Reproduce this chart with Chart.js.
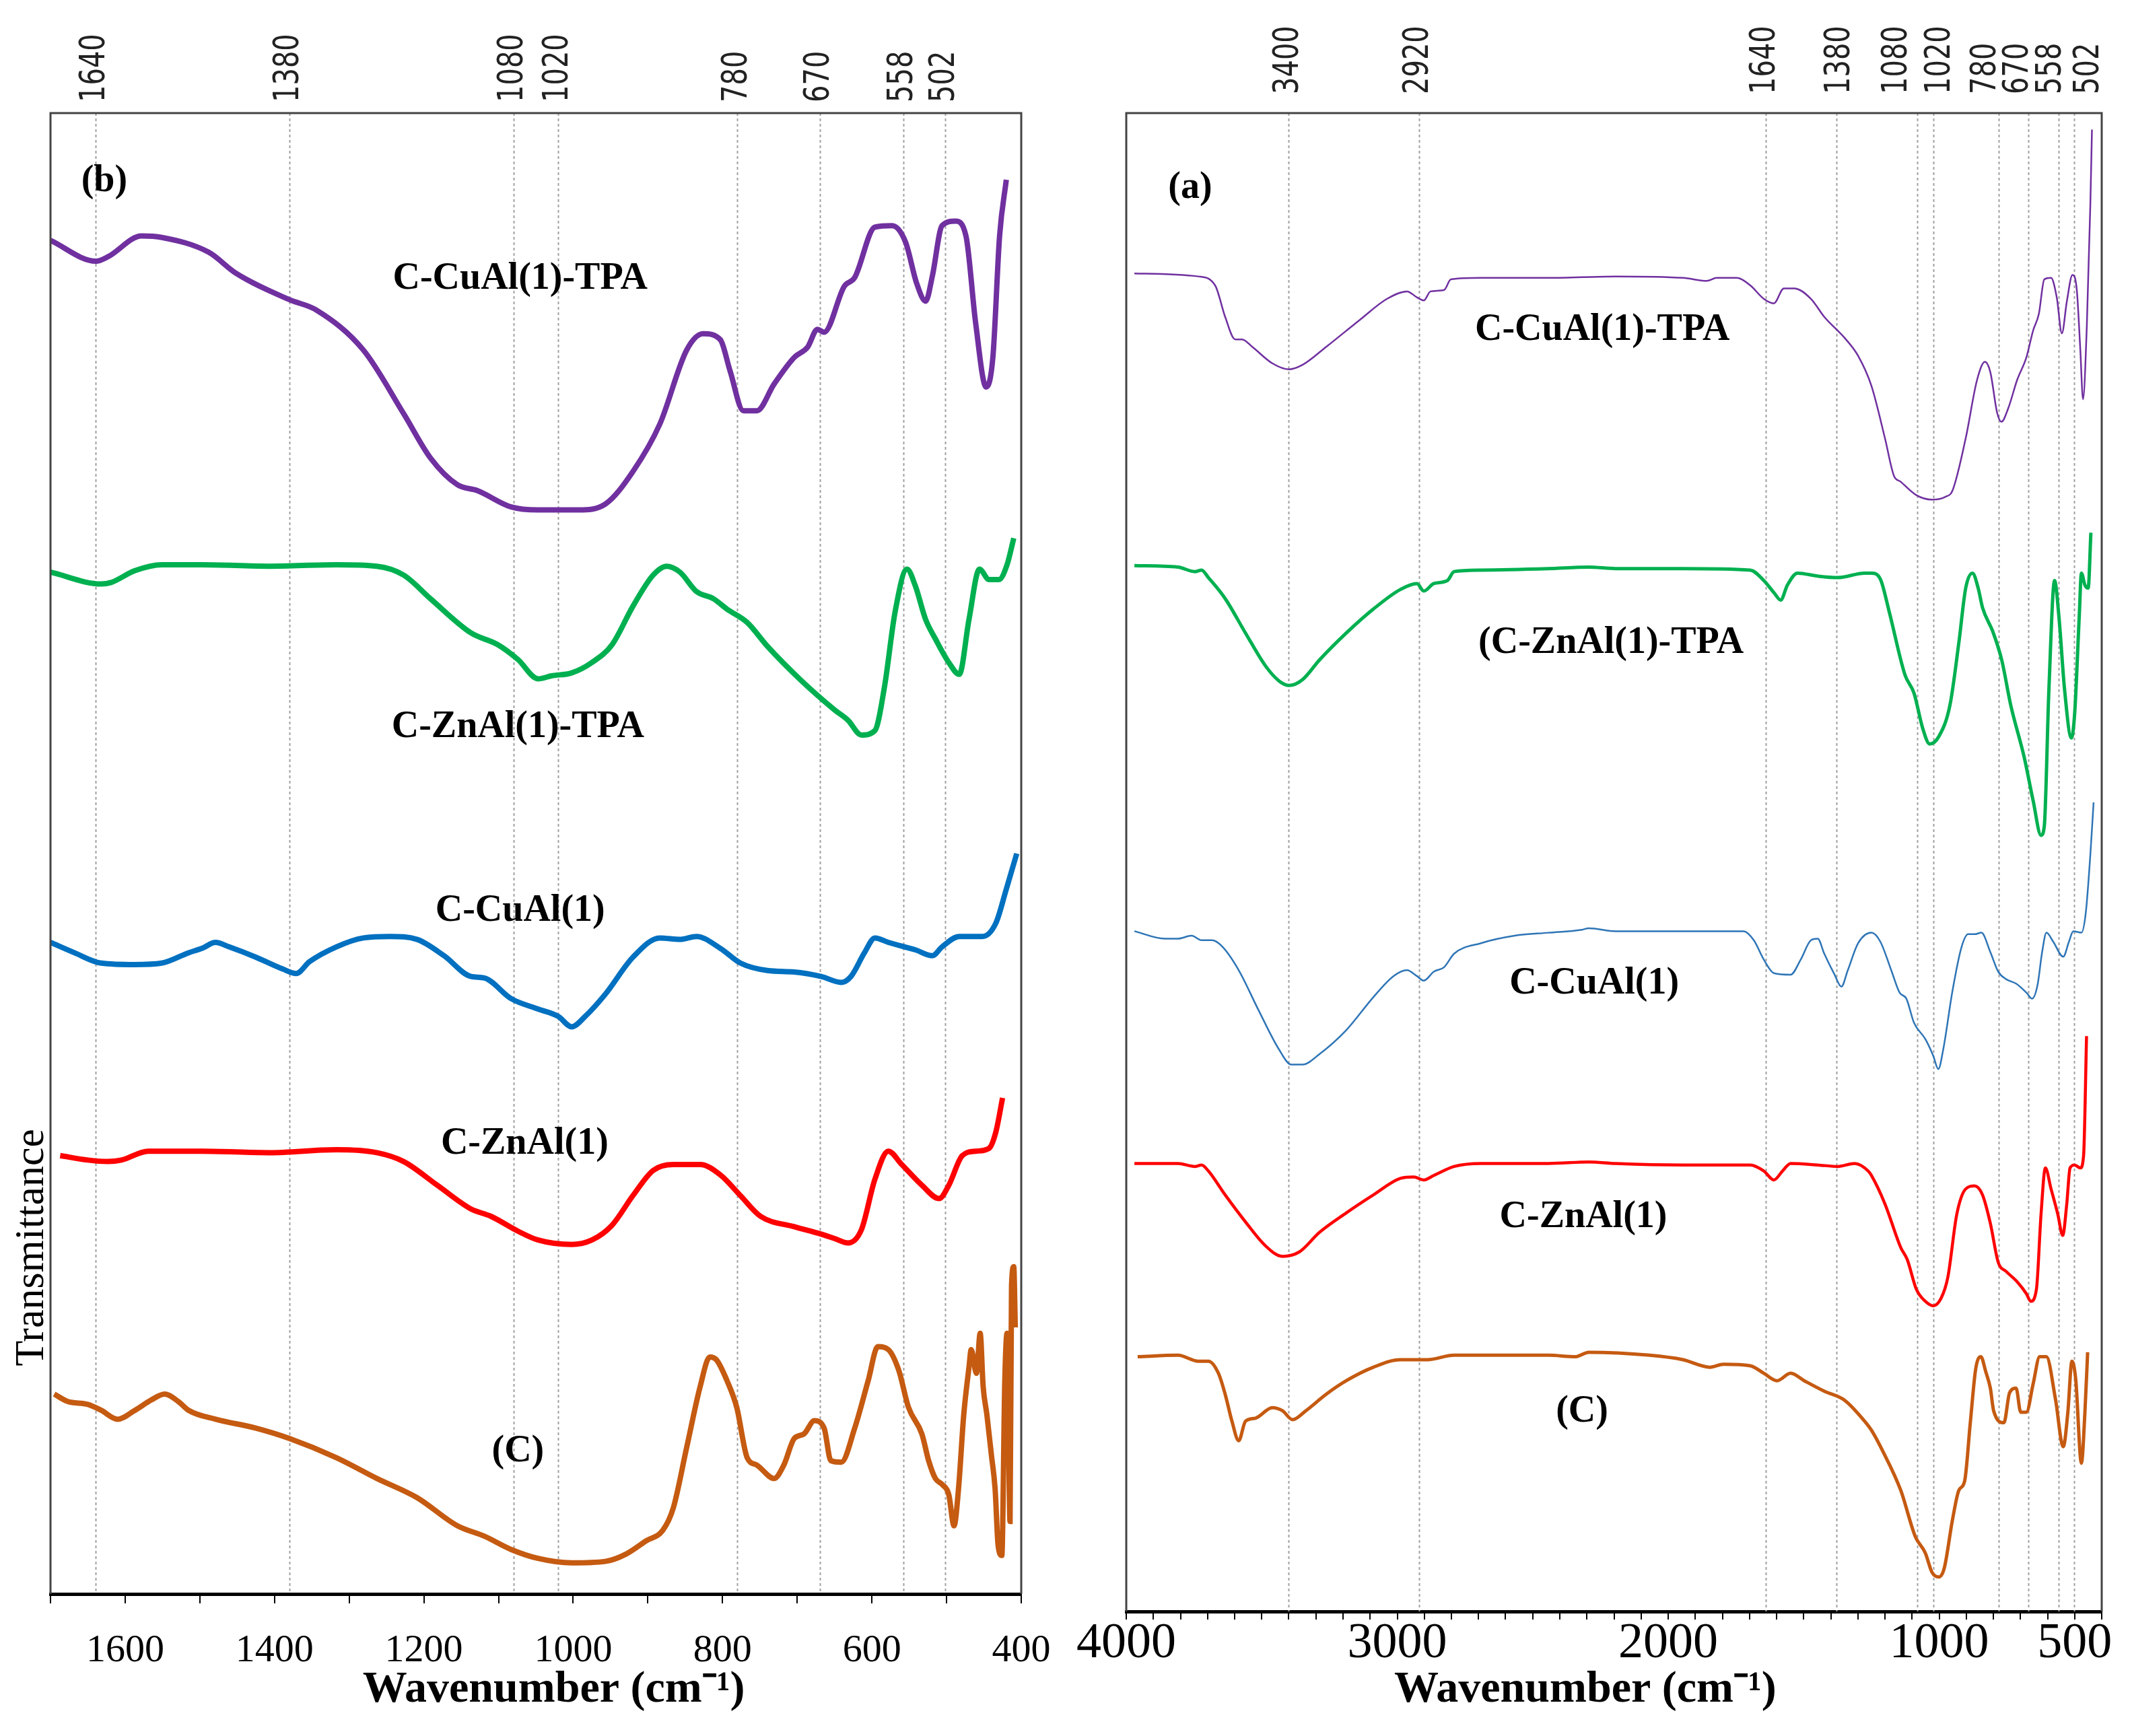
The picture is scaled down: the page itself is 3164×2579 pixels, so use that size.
<!DOCTYPE html>
<html>
<head>
<meta charset="utf-8">
<script src="https://cdn.jsdelivr.net/npm/chart.js@4.4.1/dist/chart.umd.min.js"></script>
<style>
  html, body { margin: 0; padding: 0; background: #fff; }
  #wrap { position: relative; width: 3164px; height: 2579px; background: #fff; }
  canvas { position: absolute; top: 0; }
  #left { left: 0; }
  #right { left: 1600px; }
</style>
</head>
<body>
<div id="wrap">
  <canvas id="left" width="1600" height="2579"></canvas>
  <canvas id="right" width="1564" height="2579"></canvas>
</div>
<script>
// ---- panel (b): 1700-400 cm-1 ----
const bPeaks = [1640, 1380, 1080, 1020, 780, 670, 558, 502];
const bPeakLabelAt = [1640, 1380, 1080, 1020, 780, 670, 558, 502];
const bTickLabels = [1600, 1400, 1200, 1000, 800, 600, 400];

const bCuTpaX = [1700,1639,1623,1578,1551,1488,1452,1380,1344,1281,1227,1191,1155,1128,1083,1047,993,957,920,884,848,826,803,790,772,754,731,704,686,673,664,637,623,596,573,555,540,528,519,506,488,474,461,447,438,429,420];
const bCuTpaY = [91.4,90.0,90.3,91.7,91.6,90.6,89.2,87.4,86.7,84.0,79.7,76.7,74.9,74.5,73.4,73.2,73.2,73.6,75.8,79.0,84.0,85.1,84.7,82.6,79.9,79.9,81.7,83.5,84.2,85.4,85.2,88.3,88.9,92.3,92.4,91.3,88.5,87.3,89.0,92.4,92.7,91.7,85.8,81.5,83.5,91.7,95.5];

const bZnTpaX = [1700,1632,1619,1587,1551,1497,1407,1317,1263,1227,1191,1137,1101,1074,1047,1029,1002,975,948,920,893,875,857,835,812,794,767,740,695,650,632,614,596,583,569,553,542,528,515,497,483,470,456,443,430,419,410];
const bZnTpaY = [69.0,68.2,68.3,69.1,69.5,69.5,69.4,69.5,69.4,68.8,67.2,64.9,64.1,63.1,61.8,62.0,62.2,62.9,64.1,66.7,68.8,69.4,69.0,67.7,67.2,66.5,65.6,64.0,61.7,59.7,59.0,58.0,58.3,61.3,66.3,69.2,68.1,65.8,64.5,62.9,62.1,65.8,69.2,68.5,68.5,69.5,71.3];

const bCuX = [1700,1668,1632,1587,1551,1515,1497,1479,1461,1425,1389,1371,1353,1317,1281,1245,1209,1173,1137,1119,1083,1047,1020,1002,984,957,920,884,857,835,803,776,740,704,668,641,628,610,596,578,542,519,506,483,452,434,420,406];
const bCuY = [44.0,43.3,42.6,42.5,42.6,43.3,43.6,44.0,43.7,43.0,42.2,41.9,42.7,43.7,44.3,44.4,44.2,43.1,41.7,41.6,40.2,39.5,39.0,38.3,39.0,40.5,43.0,44.3,44.2,44.4,43.6,42.6,42.1,42.0,41.7,41.3,41.7,43.3,44.3,44.0,43.5,43.1,43.7,44.4,44.4,45.3,47.6,50.0];

const bZnX = [1687,1650,1623,1605,1569,1497,1407,1317,1263,1227,1182,1137,1110,1074,1047,1002,975,948,920,893,866,830,803,776,749,704,668,650,632,614,596,578,560,533,510,497,479,461,443,434,425];
const bZnY = [29.6,29.3,29.2,29.3,29.9,29.9,29.8,30.0,29.8,29.2,27.6,26.0,25.5,24.5,23.9,23.6,23.9,24.9,26.9,28.6,29.0,29.0,28.3,26.9,25.5,24.8,24.3,24.0,23.7,24.6,28.0,29.9,29.0,27.6,26.7,27.6,29.6,29.9,30.1,31.2,33.5];

const bCX = [1695,1677,1650,1632,1610,1587,1565,1547,1529,1515,1479,1425,1380,1317,1263,1209,1155,1119,1083,1047,1002,957,929,902,880,866,848,830,817,808,794,781,767,754,731,718,704,691,677,664,655,641,623,605,592,578,564,551,533,524,515,506,497,490,484,477,470,467,460,455,451,446,440,435,431,426,422,419,415,413,410,408];
const bCY = [13.5,13.0,12.8,12.4,11.8,12.4,13.1,13.5,13.0,12.4,11.8,11.2,10.5,9.2,7.8,6.5,4.6,3.9,3.0,2.4,2.1,2.2,2.7,3.6,4.3,5.8,9.9,14.0,16.0,15.8,14.4,12.6,9.2,8.7,7.8,8.7,10.5,10.8,11.7,11.2,9.0,8.9,11.2,14.4,16.7,16.5,15.1,12.6,10.8,9.0,7.8,7.4,6.7,4.6,7.1,12.1,15.3,16.5,14.9,17.6,14.0,12.1,9.4,7.1,3.3,2.6,14.4,17.6,4.9,20.8,22.1,18.0];

const bLabels = ['(b)', 'C-CuAl(1)-TPA', 'C-ZnAl(1)-TPA', 'C-CuAl(1)', 'C-ZnAl(1)', '(C)'];
const bLabelX = [1628, 1071, 1074, 1071, 1065, 1074];
const bLabelY = [95.4, 88.8, 58.5, 46.1, 30.4, 9.6];

// ---- panel (a): 4000-400 cm-1 ----
const aPeaks = [3400, 2920, 1640, 1380, 1080, 1020, 780, 670, 558, 502];
const aPeakLabelAt = [3400, 2920, 1640, 1366, 1153, 996, 827, 708, 586, 447];
const aTickLabels = [4000, 3000, 2000, 1000, 500];

const aCuTpaX = [3970,3734,3672,3635,3598,3573,3535,3461,3399,3349,3262,3138,3038,2964,2927,2902,2877,2827,2802,2691,2442,2194,1945,1858,1821,1747,1697,1647,1610,1573,1535,1473,1424,1349,1299,1250,1200,1167,1142,1084,1026,976,951,902,860,831,811,786,770,745,712,678,653,632,612,587,566,547,529,508,492,479,469,455,442,436];
const aCuTpaY = [89.3,89.1,88.5,86.4,84.9,84.9,84.4,83.3,82.9,83.2,84.4,86.2,87.6,88.1,87.7,87.5,88.1,88.2,88.9,89.0,89.0,89.1,89.0,88.8,89.0,89.0,88.5,87.6,87.3,88.3,88.3,87.6,86.4,85.0,83.8,81.8,78.3,75.8,75.4,74.5,74.2,74.4,74.8,78.3,82.2,83.4,82.7,80.0,79.4,80.3,82.2,83.7,85.5,86.6,88.9,89.0,87.7,85.3,87.4,89.2,88.2,84.2,80.9,85.8,93.9,98.9];

const aZnTpaX = [3970,3809,3747,3722,3697,3635,3560,3486,3436,3399,3349,3287,3188,3088,2989,2927,2902,2865,2815,2790,2691,2442,2293,2194,1945,1697,1647,1610,1585,1560,1523,1448,1374,1275,1250,1217,1184,1126,1093,1060,1035,1001,960,927,902,877,856,840,802,769,736,686,653,624,612,595,574,558,537,512,500,483,475,462,450,440];
const aZnTpaY = [69.8,69.7,69.4,69.5,69.0,67.6,65.3,63.1,62.1,61.8,62.2,63.5,65.3,66.9,68.2,68.6,68.1,68.6,68.8,69.4,69.5,69.6,69.7,69.6,69.6,69.5,68.8,68.0,67.5,68.5,69.3,69.1,69.0,69.3,69.3,68.9,66.7,62.5,61.3,58.9,57.9,58.4,60.5,64.7,68.3,69.3,68.3,67.0,65.4,63.5,60.5,57.0,54.1,51.8,52.4,61.5,68.8,66.4,61.5,58.3,59.9,66.4,69.3,68.5,68.3,72.0];

const aCuX = [3970,3858,3809,3759,3722,3684,3647,3585,3511,3436,3391,3349,3287,3188,3088,3014,2964,2927,2902,2865,2827,2790,2691,2566,2442,2318,2293,2194,1945,1722,1684,1647,1610,1548,1511,1473,1448,1424,1386,1361,1337,1299,1250,1217,1175,1146,1121,1093,1051,1022,1003,985,951,918,893,869,844,811,782,753,716,678,657,637,620,604,579,542,521,505,475,459,442,430];
const aCuY = [45.4,44.9,44.9,45.1,44.8,44.8,44.4,42.8,40.1,37.5,36.5,36.5,37.2,38.8,41.0,42.4,42.8,42.4,42.1,42.7,43.0,43.9,44.6,45.1,45.3,45.5,45.6,45.4,45.4,45.4,44.8,43.5,42.6,42.5,43.5,44.8,44.9,43.9,42.5,41.7,42.8,44.6,45.3,44.7,42.7,41.3,40.9,39.3,38.2,37.1,36.2,37.5,41.4,44.3,45.2,45.2,45.3,44.0,42.7,42.2,41.9,41.3,40.9,41.8,44.0,45.3,44.7,43.7,44.7,45.4,45.3,46.6,50.5,54.0];

const aZnX = [3970,3809,3747,3722,3697,3635,3560,3486,3424,3361,3287,3188,3088,2989,2939,2902,2865,2790,2691,2442,2293,2194,1945,1697,1647,1610,1578,1548,1448,1374,1312,1262,1250,1200,1142,1118,1084,1051,1022,993,968,935,902,869,840,811,782,753,712,678,662,641,624,608,587,562,544,529,517,500,479,467,456];
const aZnY = [29.9,29.9,29.7,29.8,29.4,27.8,26.0,24.4,23.7,24.0,25.3,26.6,27.8,28.9,29.0,28.8,29.1,29.7,29.9,29.9,30.0,29.9,29.8,29.8,29.4,28.8,29.4,29.9,29.8,29.7,29.9,29.4,29.1,27.2,24.3,23.5,21.5,20.7,20.4,20.9,22.3,26.5,28.2,28.4,27.8,25.9,23.3,22.7,22.0,21.2,20.7,21.5,26.5,29.6,28.2,26.5,25.1,27.2,29.6,29.8,29.6,30.4,38.4];

const aCX = [3958,3809,3734,3697,3660,3635,3610,3585,3560,3523,3461,3424,3386,3337,3262,3188,3088,2989,2889,2790,2442,2343,2293,2069,1945,1846,1796,1697,1647,1598,1548,1498,1424,1349,1275,1250,1208,1142,1088,1051,1026,1001,981,951,927,906,885,865,846,828,811,799,761,740,716,699,678,653,629,604,571,542,525,510,496,475,462,452];
const aCY = [17.0,17.1,16.7,16.7,15.9,14.5,12.7,11.4,12.7,12.9,13.6,13.4,12.8,13.4,14.5,15.4,16.3,16.8,16.8,17.1,17.1,17.0,17.3,17.1,16.8,16.3,16.5,16.4,15.9,15.4,15.9,15.4,14.7,14.1,12.7,12.1,10.7,8.1,5.0,3.9,2.6,2.3,2.9,6.1,8.1,8.7,12.6,16.2,17.0,16.0,14.9,13.4,12.6,14.6,14.9,13.3,13.3,15.2,17.0,17.0,14.2,11.0,13.3,16.7,15.5,9.9,13.3,17.3];

const aLabels = ['(a)', 'C-CuAl(1)-TPA', '(C-ZnAl(1)-TPA', 'C-CuAl(1)', 'C-ZnAl(1)', '(C)'];
const aLabelX = [3764, 2243, 2211, 2273, 2313, 2318];
const aLabelY = [95.0, 85.5, 64.6, 41.9, 26.3, 13.3];

const colors = { cuTpa: '#7030A0', znTpa: '#00B050', cu: '#0070C0', zn: '#FF0000', c: '#C55A11' };
const serif = '"Liberation Serif", "Times New Roman", serif';

function pts(xs, ys) {
    return xs.map((x, i) => ({ x: x, y: ys[i] }));
}

function line(label, xs, ys, color, width) {
    return {
        label: label,
        data: pts(xs, ys),
        borderColor: color,
        borderWidth: width,
        pointRadius: 0,
        fill: false,
        cubicInterpolationMode: 'monotone',
    };
}

// frame, dotted peak lines, rotated peak numbers, curve names, axis titles
const panelDeco = {
    id: 'panelDeco',
    beforeDatasetsDraw(chart, args, opts) {
        const { ctx, chartArea: a, scales: { x } } = chart;
        ctx.save();
        ctx.strokeStyle = '#a0a0a0';
        ctx.lineWidth = 2;
        ctx.setLineDash([4, 4]);
        opts.peaks.forEach(p => {
            const px = Math.round(x.getPixelForValue(p)) + 0.5;
            ctx.beginPath();
            ctx.moveTo(px, a.top);
            ctx.lineTo(px, a.bottom);
            ctx.stroke();
        });
        ctx.restore();
    },
    afterDatasetsDraw(chart, args, opts) {
        const { ctx, chartArea: a, scales: { x, y } } = chart;
        ctx.save();
        ctx.strokeStyle = '#444';
        ctx.lineWidth = 3;
        ctx.beginPath();
        ctx.moveTo(a.left, a.bottom);
        ctx.lineTo(a.left, a.top);
        ctx.lineTo(a.right, a.top);
        ctx.lineTo(a.right, a.bottom);
        ctx.stroke();

        // peak numbers, rotated, slightly tall glyphs like the original
        ctx.fillStyle = '#222';
        ctx.font = '40px "DejaVu Sans", sans-serif';
        ctx.textAlign = 'left';
        ctx.textBaseline = 'middle';
        opts.peaks.forEach((p, i) => {
            ctx.save();
            ctx.translate(x.getPixelForValue(opts.peakLabelAt[i]), a.top - opts.peakGap);
            ctx.rotate(-Math.PI / 2);
            ctx.scale(1, 1.3);
            ctx.fillText(String(p), 0, 0);
            ctx.restore();
        });

        ctx.fillStyle = '#000';
        ctx.font = 'bold 56px ' + serif;
        ctx.textAlign = 'center';
        opts.labels.forEach((t, i) => {
            ctx.fillText(t, x.getPixelForValue(opts.labelX[i]), y.getPixelForValue(opts.labelY[i]));
        });

        ctx.font = 'bold 66px ' + serif;
        ctx.fillText('Wavenumber (cm\u207B\u00B9)', x.getPixelForValue(opts.titleAt), chart.height - 68);

        if (opts.yTitle) {
            ctx.save();
            ctx.font = '62px ' + serif;
            ctx.translate(a.left - 27, y.getPixelForValue(23.4));
            ctx.rotate(-Math.PI / 2);
            ctx.fillText(opts.yTitle, 0, 0);
            ctx.restore();
        }
        ctx.restore();
    }
};

function makeChart(canvasId, cfg) {
    const minor = [];
    for (let v = cfg.min; v <= cfg.max; v += 100) minor.push(v);

    return new Chart(document.getElementById(canvasId), {
        type: 'line',
        data: { datasets: cfg.datasets },
        options: {
            responsive: false,
            animation: false,
            devicePixelRatio: 1,
            layout: { padding: cfg.padding },
            plugins: {
                legend: { display: false },
                tooltip: { enabled: false },
                panelDeco: {
                    peaks: cfg.peaks,
                    peakLabelAt: cfg.peakLabelAt,
                    peakGap: cfg.peakGap,
                    labels: cfg.labels,
                    labelX: cfg.labelX,
                    labelY: cfg.labelY,
                    titleAt: cfg.titleAt,
                    yTitle: cfg.yTitle,
                },
            },
            scales: {
                x: {
                    type: 'linear',
                    reverse: true,
                    min: cfg.min,
                    max: cfg.max,
                    afterBuildTicks: axis => { axis.ticks = minor.map(v => ({ value: v })); },
                    afterFit: axis => { axis.height = cfg.bottomHeight; },
                    ticks: {
                        autoSkip: false,
                        maxRotation: 0,
                        minRotation: 0,
                        padding: cfg.tickPadding,
                        color: '#000',
                        font: { family: serif, size: cfg.tickSize, lineHeight: 1 },
                        callback: v => cfg.tickLabels.includes(v) ? String(v) : '',
                    },
                    grid: { drawOnChartArea: false, drawTicks: true, tickLength: cfg.tickLength, color: '#000', lineWidth: 2 },
                    border: { display: true, color: '#000', width: 5 },
                },
                x2: {
                    type: 'linear',
                    position: 'top',
                    reverse: true,
                    min: cfg.min,
                    max: cfg.max,
                    afterFit: axis => { axis.height = 168; },
                    ticks: { display: false },
                    grid: { display: false },
                    border: { display: false },
                },
                y: { display: false, min: 0, max: 100 },
            },
        },
        plugins: [panelDeco],
    });
}

makeChart('left', {
    min: 400, max: 1700,
    padding: { left: 75, right: 83, top: 0, bottom: 0 },
    bottomHeight: 211,
    tickPadding: 42, tickSize: 58, tickLength: 14,
    tickLabels: bTickLabels,
    peaks: bPeaks, peakLabelAt: bPeakLabelAt, peakGap: 16,
    labels: bLabels, labelX: bLabelX, labelY: bLabelY,
    titleAt: 1026,
    yTitle: 'Transmittance',
    datasets: [
        line('C-CuAl(1)-TPA', bCuTpaX, bCuTpaY, colors.cuTpa, 8),
        line('C-ZnAl(1)-TPA', bZnTpaX, bZnTpaY, colors.znTpa, 8),
        line('C-CuAl(1)', bCuX, bCuY, colors.cu, 8),
        line('C-ZnAl(1)', bZnX, bZnY, colors.zn, 8),
        line('(C)', bCX, bCY, colors.c, 8),
    ],
});

makeChart('right', {
    min: 400, max: 4000,
    padding: { left: 73, right: 42, top: 0, bottom: 0 },
    bottomHeight: 185,
    tickPadding: 0, tickSize: 74, tickLength: 12,
    tickLabels: aTickLabels,
    peaks: aPeaks, peakLabelAt: aPeakLabelAt, peakGap: 28,
    labels: aLabels, labelX: aLabelX, labelY: aLabelY,
    titleAt: 2306,
    yTitle: null,
    datasets: [
        line('C-CuAl(1)-TPA', aCuTpaX, aCuTpaY, colors.cuTpa, 2.5),
        line('C-ZnAl(1)-TPA', aZnTpaX, aZnTpaY, colors.znTpa, 5),
        line('C-CuAl(1)', aCuX, aCuY, '#2E75B6', 2.5),
        line('C-ZnAl(1)', aZnX, aZnY, colors.zn, 4.5),
        line('(C)', aCX, aCY, colors.c, 5),
    ],
});
</script>
</body>
</html>
